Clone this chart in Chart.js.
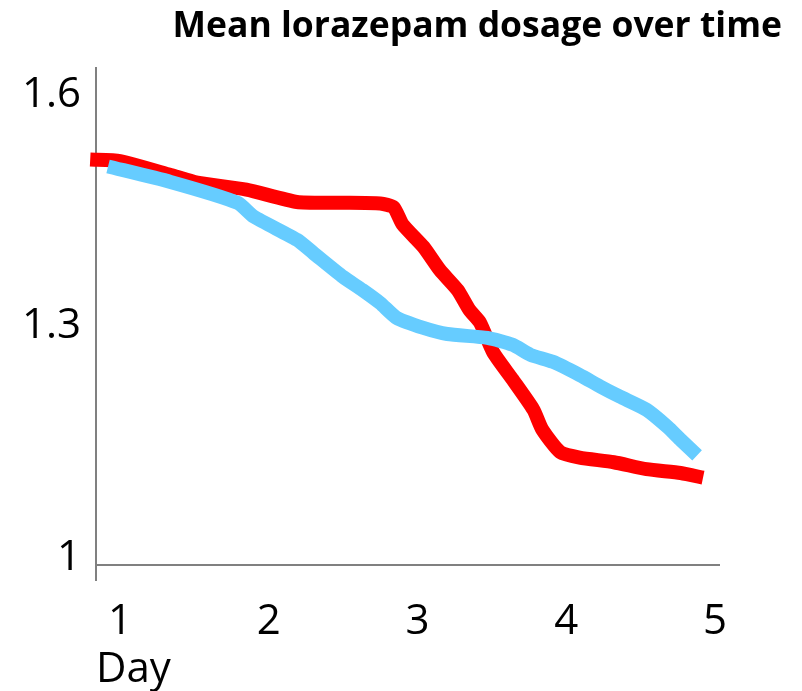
<!DOCTYPE html>
<html>
<head>
    <title>Mean lorazepam dosage over time</title>
    <script src="https://cdn.jsdelivr.net/npm/chart.js"></script>
    <style>
        body { margin: 0; background: #fff; }
    </style>
</head>
<body>
    <canvas id="chart" width="802" height="691"></canvas>

    <script>
        // tick labels
        const dayTicks = [1, 2, 3, 4, 5];
        const doseTicks = [1, 1.3, 1.6];

        // red series
        const redDays = [0.80, 1.00, 1.34, 1.52, 1.85, 2.19, 2.48, 2.75, 2.84, 2.90, 3.04, 3.15, 3.27, 3.35, 3.42, 3.51, 3.64, 3.78, 3.84, 3.96, 4.09, 4.32, 4.54, 4.77, 4.92];
        const redDose = [1.516, 1.514, 1.496, 1.486, 1.477, 1.461, 1.460, 1.459, 1.454, 1.432, 1.403, 1.373, 1.347, 1.321, 1.305, 1.266, 1.231, 1.192, 1.166, 1.137, 1.130, 1.124, 1.115, 1.110, 1.104];

        // blue series
        const blueDays = [0.92, 1.34, 1.79, 1.90, 2.19, 2.30, 2.50, 2.63, 2.75, 2.86, 3.04, 3.20, 3.47, 3.64, 3.76, 3.91, 4.09, 4.23, 4.36, 4.54, 4.68, 4.77, 4.88];
        const blueDose = [1.507, 1.487, 1.460, 1.442, 1.412, 1.395, 1.364, 1.347, 1.330, 1.311, 1.298, 1.290, 1.285, 1.276, 1.263, 1.254, 1.237, 1.222, 1.209, 1.192, 1.170, 1.153, 1.133];

        const AXIS_AT = 0.991; // where the horizontal axis line sits

        function pts(xs, ys) {
            return xs.map((x, i) => ({ x: x, y: ys[i] }));
        }

        Chart.defaults.color = '#000';
        Chart.defaults.font.family = "'Open Sans', sans-serif";

        const ctx = document.getElementById('chart').getContext('2d');
        const chart = new Chart(ctx, {
            type: 'line',
            data: {
                datasets: [{
                    label: 'Blue',
                    data: pts(blueDays, blueDose),
                    borderColor: '#66ccff',
                    borderWidth: 14,
                    borderCapStyle: 'butt',
                    borderJoinStyle: 'round',
                    pointRadius: 0,
                    tension: 0.2,
                    clip: false
                }, {
                    label: 'Red',
                    data: pts(redDays, redDose),
                    borderColor: '#ff0000',
                    borderWidth: 14,
                    borderCapStyle: 'butt',
                    borderJoinStyle: 'round',
                    pointRadius: 0,
                    tension: 0.2,
                    clip: false
                }]
            },
            options: {
                responsive: false,
                animation: false,
                layout: { padding: { left: 0, right: 20, top: 0, bottom: 0 } },
                plugins: {
                    legend: { display: false },
                    tooltip: { enabled: false },
                    title: {
                        display: true,
                        text: 'Mean lorazepam dosage over time',
                        align: 'end',
                        font: { size: 35.5, weight: 'bold' },
                        padding: { top: 6, bottom: 19 }
                    }
                },
                scales: {
                    x: {
                        type: 'linear',
                        min: 0.839,
                        max: 5.034,
                        afterBuildTicks: s => { s.ticks = dayTicks.map(v => ({ value: v })); },
                        // keep the plot narrower than the title row, fix the axis band height
                        afterFit: s => { s.paddingRight = 82; s.height = 111; },
                        grid: { display: false, drawTicks: false },
                        border: { display: false },
                        ticks: { font: { size: 42 }, padding: 17, maxRotation: 0 },
                        title: {
                            display: true,
                            text: 'Day',
                            align: 'start',
                            font: { size: 42, lineHeight: 1 },
                            padding: { top: 3, bottom: 0 }
                        }
                    },
                    y: {
                        min: 0.9715,
                        max: 1.635,
                        afterBuildTicks: s => {
                            s.ticks = [{ value: AXIS_AT }].concat(doseTicks.map(v => ({ value: v })));
                        },
                        afterFit: s => { s.width = 96; },
                        grid: {
                            drawTicks: false,
                            lineWidth: 2,
                            color: c => (c.tick && c.tick.value < 0.995) ? '#808080' : 'rgba(0,0,0,0)'
                        },
                        border: { display: true, color: '#808080', width: 2 },
                        ticks: {
                            font: { size: 42 },
                            padding: 15,
                            callback: v => v < 0.995 ? '' : String(v)
                        }
                    }
                }
            }
        });
    </script>
</body>
</html>
